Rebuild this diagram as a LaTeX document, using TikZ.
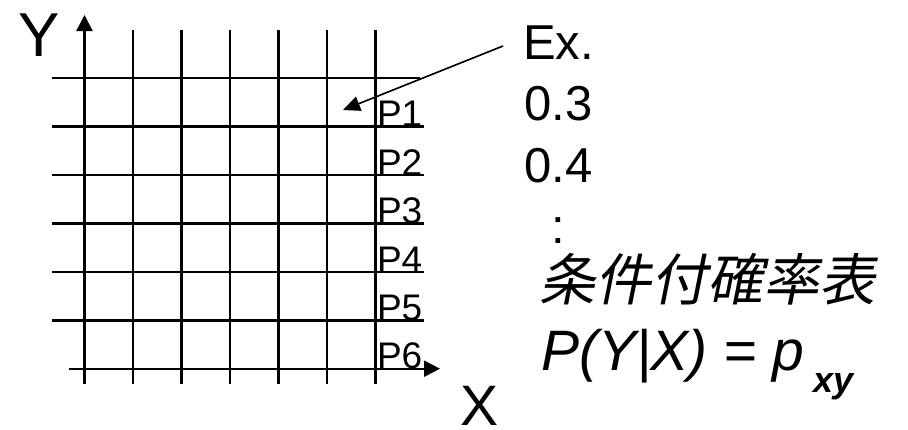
\documentclass[tikz,border=0pt]{standalone}
\usepackage{fontspec}
\setmainfont{Liberation Sans}
\newfontfamily\cjkfont[FakeSlant=0.2]{Noto Sans CJK JP}
\usetikzlibrary{arrows.meta}
\begin{document}
\begin{tikzpicture}[x=1pt,y=-1pt,
  gridline/.style={line width=2.2pt},
  axisline/.style={line width=2.2pt,-{Triangle[length=16pt,width=16pt]}},
  ptr/.style={line width=1.6pt,-{Triangle[length=17pt,width=15pt]}},
  lbl/.style={anchor=base west,inner sep=0pt,outer sep=0pt},
  plabel/.style={lbl,font=\fontsize{37}{37}\selectfont},
  rtext/.style={lbl,font=\fontsize{49}{49}\selectfont}]
\useasboundingbox (0,0) rectangle (908,429);
% vertical grid lines
\foreach \x in {133,181.5,230,278.5,327,375.5}
  \draw[gridline] (\x,30) -- (\x,384);
% horizontal grid lines
\draw[gridline] (52.3,78) -- (420,78);
\foreach \y in {126.5,175,223.5,272,320.5}
  \draw[gridline] (52.3,\y) -- (424,\y);
% axes
\coordinate (ybot) at (84.5,384);
\coordinate (ytop) at (84.5,15);
\coordinate (xleft) at (69,368.7);
\coordinate (xright) at (440,368.7);
\draw[axisline] (ybot) -- (ytop);
\draw[axisline] (xleft) -- (xright);
\node[lbl,font=\fontsize{62}{62}\selectfont] (ylab) at (18,56.7) {Y};
\node[lbl,text depth=0pt,font=\fontsize{57}{57}\selectfont] (xlab) at (460,425) {X};
% P labels
\node[plabel] (p1) at (377,126.5) {P1};
\node[plabel] (p2) at (377,175) {P2};
\node[plabel] (p3) at (377,223.5) {P3};
\node[plabel] (p4) at (377,272) {P4};
\node[plabel] (p5) at (377,320.5) {P5};
\node[plabel] (p6) at (377,368.7) {P6};
% right text
\node[rtext] (ex) at (523,59) {Ex.};
\node[rtext] (v1) at (524.5,120) {0.3};
\node[rtext] (v2) at (524.5,182) {0.4};
\node[rtext] (dots) at (551,243) {:};
\node[lbl,font=\fontsize{56}{56}\cjkfont] (title) at (539,300) {条件付確率表};
\node[lbl,font=\fontsize{57}{57}\selectfont\itshape] (formula) at (541,370.7)
  {P(Y|X) = p\hspace{9pt}\raisebox{-22pt}{\fontsize{36}{36}\selectfont\bfseries\itshape xy}};
% pointer arrow
\coordinate (exstart) at (503,46);
\coordinate (cell) at (343,110);
\draw[ptr] (exstart) -- (cell);
\end{tikzpicture}
\end{document}
